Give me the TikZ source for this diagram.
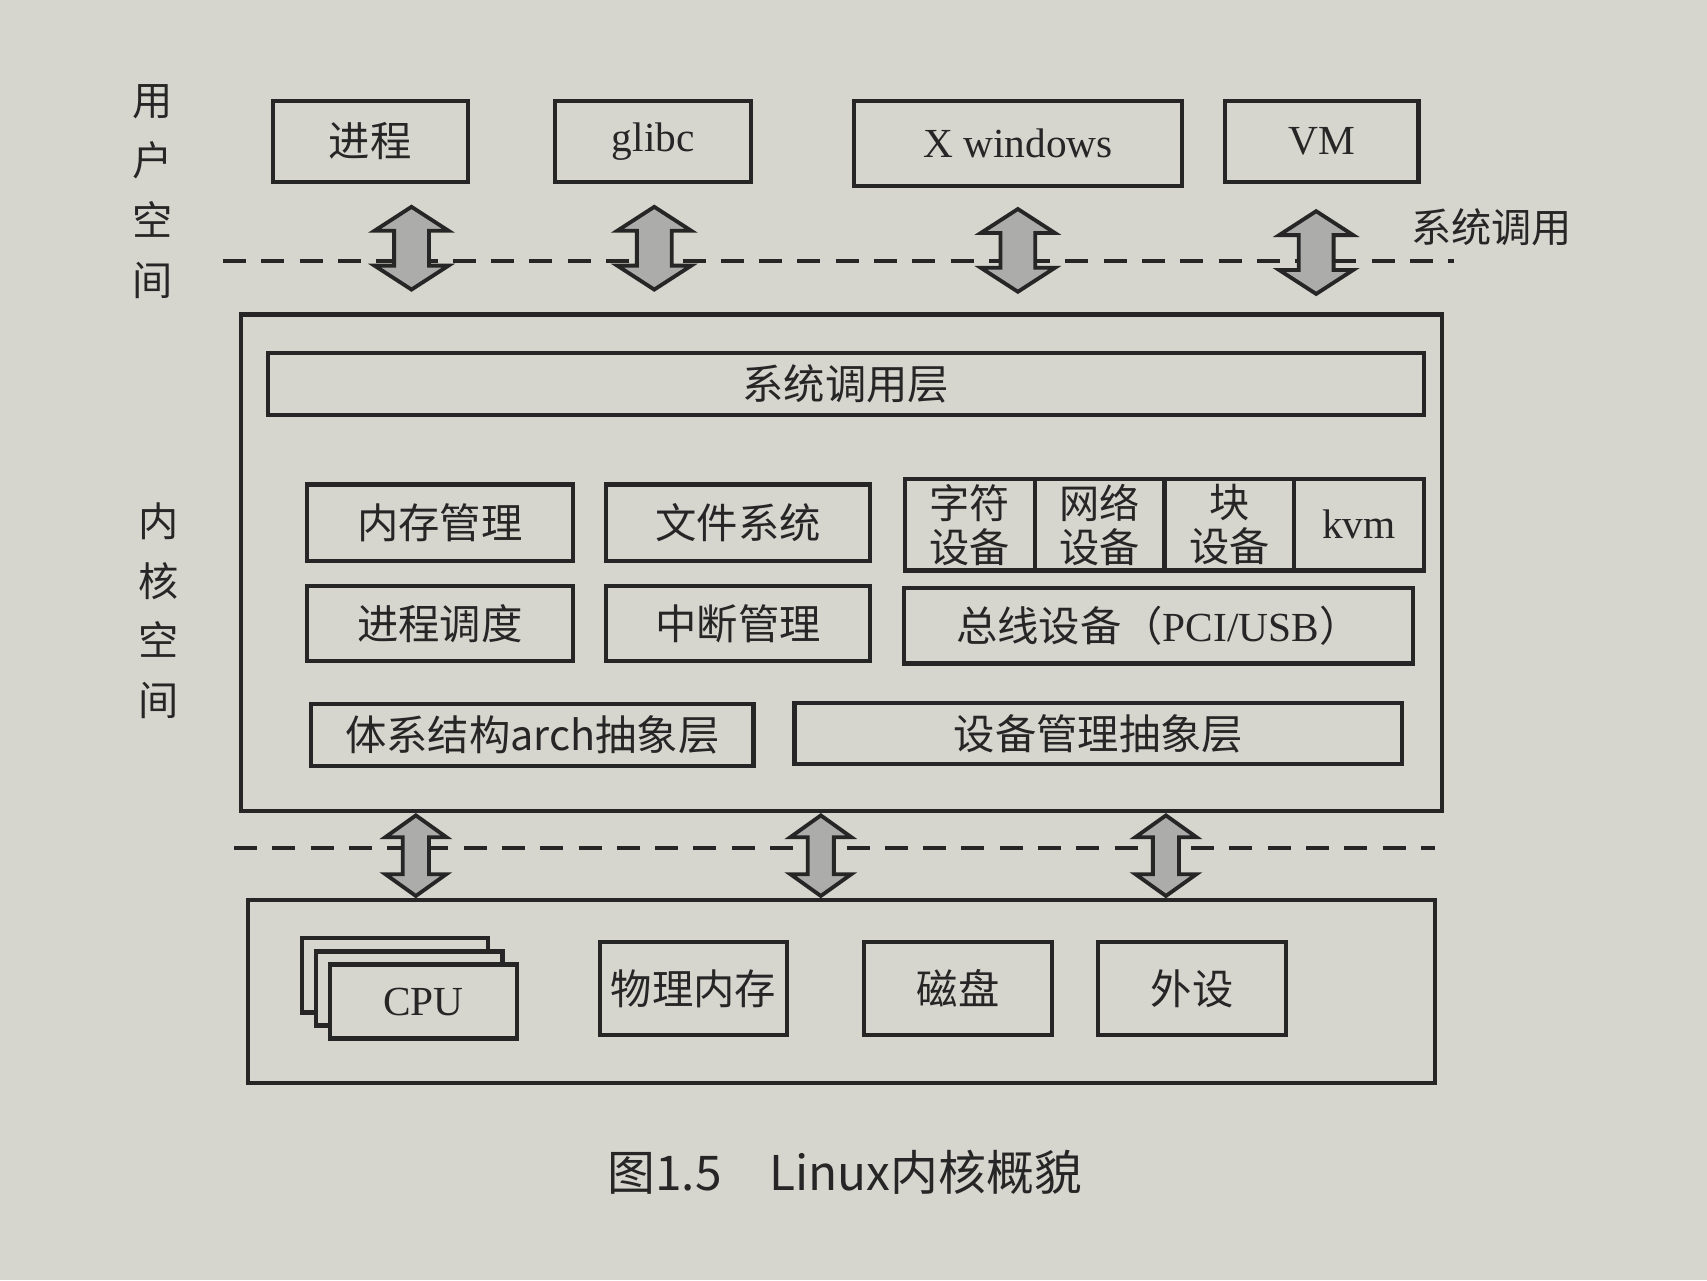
\documentclass[tikz,border=0pt]{standalone}
\usepackage{fontspec}
\setmainfont{Liberation Serif}
\newfontfamily\cjk{Noto Sans CJK SC}
\usepackage{tikz}
\usetikzlibrary{positioning}

\definecolor{paper}{RGB}{214,213,206}
\definecolor{ink}{RGB}{38,38,38}
\definecolor{arrowgray}{RGB}{172,172,170}

% double block arrow: centre, half length, head half width, shaft half width, head height
\newcommand{\updown}[5]{%
  \draw[blockarrow, shift={(#1)}] (0,-#2) -- (#3,-#2+#5) -- (#4,-#2+#5) -- (#4,#2-#5) -- (#3,#2-#5)
    -- (0,#2) -- (-#3,#2-#5) -- (-#4,#2-#5) -- (-#4,-#2+#5) -- (-#3,-#2+#5) -- cycle;}

\begin{document}
\begin{tikzpicture}[x=0.01cm, y=-0.01cm,
    box/.style={draw=ink, line width=1.1pt, inner sep=0pt, outer sep=0pt, text=ink},
    zh/.style={font=\cjk\fontsize{10.8}{12}\selectfont},
    en/.style={font=\fontsize{10.8}{13}\selectfont},
    cell/.style={box, align=center, minimum width=1.19cm, minimum height=0.84cm, font=\cjk\fontsize{10.5}{11.5}\selectfont},
    boundary/.style={draw=ink, line width=1pt, dash pattern=on 6pt off 4pt},
    blockarrow/.style={draw=ink, line width=1pt, fill=arrowgray}]

  \fill[paper] (0,0) rectangle (1568,1176);
  \useasboundingbox (0,0) rectangle (1568,1176);

  % user space
  \node[align=center, text=ink, font=\cjk\fontsize{10.5}{15.6}\selectfont] (userlbl) at (140,176) {用\\户\\空\\间};
  \node[box, zh, minimum width=1.79cm, minimum height=0.75cm] (proc) at (340,130) {进程};
  \node[box, en, minimum width=1.80cm, minimum height=0.75cm] (glibc) at (600,130) {glibc};
  \node[box, en, minimum width=3.01cm, minimum height=0.78cm] (xwin) at (935,132) {X windows};
  \node[box, en, minimum width=1.78cm, minimum height=0.74cm] (vm) at (1214,130) {VM};

  % system call boundary
  \coordinate (sysL) at (205,240);
  \coordinate (sysR) at (1336,240);
  \draw[boundary] (sysL) -- (sysR);
  \node[text=ink, font=\cjk\fontsize{10.5}{12}\selectfont, anchor=west] (syscall) at (1284,209) {系统调用};
  \updown{378,228}{38}{34}{16}{22}
  \updown{601,228}{38}{34}{16}{22}
  \updown{935,230}{38}{34}{16}{22}
  \updown{1209,232}{38}{34}{16}{22}

  % kernel space
  \node[align=center, text=ink, font=\cjk\fontsize{10.5}{15.6}\selectfont] (kernlbl) at (146,561) {内\\核\\空\\间};
  \node[box, minimum width=11.02cm, minimum height=4.56cm] (kernel) at (773,517) {};
  \node[box, zh, minimum width=10.61cm, minimum height=0.57cm] (sclayer) at (777,353) {系统调用层};

  \node[box, zh, minimum width=2.44cm, minimum height=0.70cm] (mm) at (404,480) {内存管理};
  \node[box, zh, minimum width=2.42cm, minimum height=0.70cm] (fs) at (678,480) {文件系统};
  \node[cell] (chardev) at (891,482) {字符\\设备};
  \node[cell, right=0pt of chardev] (netdev) {网络\\设备};
  \node[cell, right=0pt of netdev] (blkdev) {块\\设备};
  \node[cell, font=\fontsize{10.8}{13}\selectfont, right=0pt of blkdev] (kvm) {kvm};

  \node[box, zh, minimum width=2.44cm, minimum height=0.69cm] (sched) at (404,573) {进程调度};
  \node[box, zh, minimum width=2.42cm, minimum height=0.69cm] (irq) at (678,573) {中断管理};
  \node[box, zh, minimum width=4.67cm, minimum height=0.69cm] (bus) at (1064,575) {总线设备（{\rmfamily\fontsize{10.8}{13}\selectfont PCI/USB}）};

  \node[box, zh, minimum width=4.06cm, minimum height=0.57cm] (arch) at (489,675) {体系结构arch抽象层};
  \node[box, zh, minimum width=5.58cm, minimum height=0.56cm] (devabs) at (1009,674) {设备管理抽象层};

  % hardware boundary
  \coordinate (hwL) at (215,779);
  \coordinate (hwR) at (1318,779);
  \draw[boundary] (hwL) -- (hwR);
  \updown{382,786}{37}{28}{12}{20}
  \updown{754,786}{37}{28}{12}{20}
  \updown{1071,786}{37}{28}{12}{20}

  % hardware
  \node[box, minimum width=10.90cm, minimum height=1.68cm] (hw) at (773,911) {};
  \node[box, fill=paper, minimum width=1.71cm, minimum height=0.68cm] (cpu3) at (363,896) {};
  \node[box, fill=paper, minimum width=1.71cm, minimum height=0.68cm] (cpu2) at ([shift={(13,12)}]cpu3.center) {};
  \node[box, en, fill=paper, minimum width=1.71cm, minimum height=0.68cm] (cpu) at ([shift={(13,12)}]cpu2.center) {CPU};
  \node[box, zh, minimum width=1.72cm, minimum height=0.85cm] (ram) at (637,908) {物理内存};
  \node[box, zh, minimum width=1.72cm, minimum height=0.85cm] (disk) at (880,908) {磁盘};
  \node[box, zh, minimum width=1.72cm, minimum height=0.85cm] (periph) at (1095,908) {外设};

  \node[text=ink, font=\cjk\fontsize{12.5}{15}\selectfont] (caption) at (776,1077) {图1.5\quad Linux内核概貌};
\end{tikzpicture}
\end{document}
